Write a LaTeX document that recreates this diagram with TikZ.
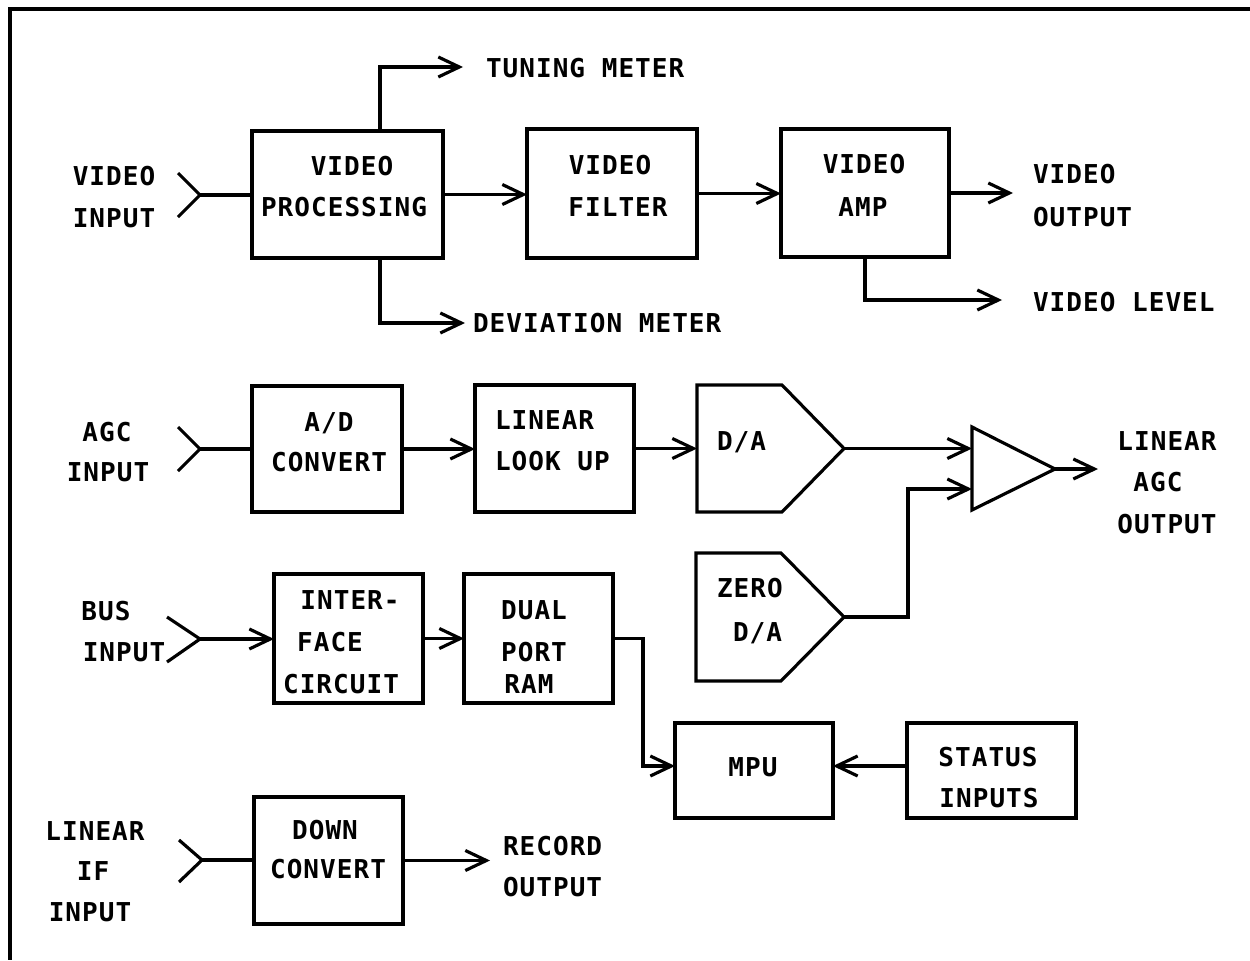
\documentclass[tikz,border=0pt]{standalone}
\usepackage{fontspec}
\newfontfamily\plotfont{DejaVu Sans Mono}[LetterSpace=4,UprightFont=*,BoldFont=* Bold]
\usetikzlibrary{arrows.meta,calc}

\begin{document}
\begin{tikzpicture}[x=0.02cm,y=-0.02cm,
  wire/.style={line width=1.8pt},
  arr/.style={wire,-{Straight Barb[length=0.42cm,width=0.40cm]}},
  blk/.style={draw,line width=1.8pt,rectangle,inner sep=0pt,outer sep=0pt},
  frm/.style={rectangle,inner sep=0pt,outer sep=0pt},
  txt/.style={inner sep=0pt,outer sep=0pt,
    font=\plotfont\bfseries\fontsize{14.8pt}{18pt}\selectfont,
    text height=10.8pt,text depth=0pt},
  ltxt/.style={txt,anchor=west}]

% page and outer frame
\fill[white] (0,0) rectangle (1250,960);
\useasboundingbox (0,0) rectangle (1250,960);
\draw[line width=2.3pt] (1250,9) -- (10,9) -- (10,960);

% ---------------- video chain ----------------
\node[blk,minimum width=3.82cm,minimum height=2.54cm] (vp) at (347.5,194.5) {};
\node[blk,minimum width=3.40cm,minimum height=2.58cm] (vf) at (612,193.5) {};
\node[blk,minimum width=3.36cm,minimum height=2.56cm] (va) at (865,193) {};

\node[txt] (vp1) at (352,166) {VIDEO};
\node[txt] (vp2) at (344,207) {PROCESSING};
\node[txt] (vf1) at (610,165) {VIDEO};
\node[txt] (vf2) at (618,207) {FILTER};
\node[txt] (va1) at (864,164) {VIDEO};
\node[txt] (va2) at (863,207) {AMP};

\node[txt] (vin1) at (114,176) {VIDEO};
\node[txt] (vin2) at (114,218) {INPUT};
\coordinate (vin) at (200,195);
\draw[wire] (vin) ++(-22,-22) -- (vin) -- ++(-22,22);
\draw[wire] (vin) -- (vin -| vp.west);

\draw[arr] (vp.east) -- (vp.east -| vf.west);
\draw[arr] (vf.east) -- (vf.east -| va.west);

\coordinate (tun) at (463,67);
\coordinate (dev) at (465,323);
\coordinate (meterx) at (380,67);
\draw[arr] (vp.north -| meterx) |- (tun);
\draw[arr] (vp.south -| meterx) |- (dev);
\node[ltxt] (tunt) at (486,68) {TUNING METER};
\node[ltxt] (devt) at (473,323) {DEVIATION METER};

\coordinate (vout) at (1013,193);
\draw[arr] (va.east) -- (va.east -| vout);
\node[ltxt] (vo1) at (1033,174) {VIDEO};
\node[ltxt] (vo2) at (1033,217) {OUTPUT};

\coordinate (vlev) at (1002,300);
\draw[arr] (va.south) |- (vlev);
\node[ltxt] (vlt) at (1033,302) {VIDEO LEVEL};

% ---------------- AGC chain ----------------
\node[blk,minimum width=3.00cm,minimum height=2.52cm] (ad) at (327,449) {};
\node[blk,minimum width=3.18cm,minimum height=2.54cm] (llu) at (554.5,448.5) {};
\node[frm,minimum width=2.94cm,minimum height=2.54cm] (da) at (770.5,448.5) {};
\draw[wire] (da.north west) -- ($(da.north east)+(-62,0)$) -- (da.east)
  -- ($(da.south east)+(-62,0)$) -- (da.south west) -- cycle;

\node[txt] (ad1) at (329,422) {A/D};
\node[txt] (ad2) at (329,462) {CONVERT};
\node[ltxt] (llu1) at (495,420) {LINEAR};
\node[ltxt] (llu2) at (495,461) {LOOK UP};
\node[ltxt] (da1) at (717,441) {D/A};

\node[txt] (agc1) at (107,432) {AGC};
\node[txt] (agc2) at (108,472) {INPUT};
\coordinate (agcin) at (200,449);
\draw[wire] (agcin) ++(-22,-22) -- (agcin) -- ++(-22,22);
\draw[wire] (agcin) -- (agcin -| ad.west);

\draw[arr] (ad.east) -- (ad.east -| llu.west);
\draw[arr] (llu.east) -- (llu.east -| da.west);

% summing amplifier
\coordinate (ampA) at (972,427);
\coordinate (ampB) at (972,510);
\coordinate (ampC) at (1055,469);
\coordinate (ampin1) at (972,448);
\coordinate (ampin2) at (972,489);
\draw[wire] (ampA) -- (ampC) -- (ampB) -- cycle;
\coordinate (agcout) at (1098,469);
\draw[arr] (ampC) -- (agcout);
\node[txt] (lo1) at (1167,441) {LINEAR};
\node[txt] (lo2) at (1158,482) {AGC};
\node[txt] (lo3) at (1167,524) {OUTPUT};

\draw[arr] (da.east) -- (da.east -| ampin1);

% zero D/A
\node[frm,minimum width=2.96cm,minimum height=2.56cm] (zda) at (770,617) {};
\draw[wire] (zda.north west) -- ($(zda.north east)+(-63,0)$) -- (zda.east)
  -- ($(zda.south east)+(-63,0)$) -- (zda.south west) -- cycle;
\node[ltxt] (zda1) at (717,588) {ZERO};
\node[ltxt] (zda2) at (733,632) {D/A};
\coordinate (zbend) at (908,617);
\draw[arr] (zda.east) -- (zbend) |- (ampin2);

% ---------------- bus chain ----------------
\node[blk,minimum width=2.98cm,minimum height=2.58cm] (ifc) at (348.5,638.5) {};
\node[blk,minimum width=2.98cm,minimum height=2.58cm] (dpr) at (538.5,638.5) {};
\node[txt] (ifc1) at (350,600) {INTER-};
\node[txt] (ifc2) at (330,642) {FACE};
\node[txt] (ifc3) at (341,684) {CIRCUIT};
\node[txt] (dpr1) at (534,610) {DUAL};
\node[txt] (dpr2) at (534,652) {PORT};
\node[txt] (dpr3) at (529,684) {RAM};

\node[txt] (bus1) at (106,611) {BUS};
\node[txt] (bus2) at (124,652) {INPUT};
\coordinate (busin) at (200,639);
\draw[wire] (busin) ++(-33,-22) -- (busin) -- ++(-33,23);
\draw[arr] (busin) -- (busin -| ifc.west);
\draw[arr] (ifc.east) -- (ifc.east -| dpr.west);

\node[blk,minimum width=3.16cm,minimum height=1.90cm] (mpu) at (754,770.5) {};
\node[blk,minimum width=3.38cm,minimum height=1.90cm] (sts) at (991.5,770.5) {};
\node[txt] (mpu1) at (753,767) {MPU};
\node[txt] (sts1) at (988,757) {STATUS};
\node[txt] (sts2) at (989,798) {INPUTS};

\coordinate (dbend) at (643,766);
\draw[arr] (dpr.east) -| (dbend) -- (dbend -| mpu.west);
\draw[arr] (sts.west |- dbend) -- (mpu.east |- dbend);

% ---------------- linear IF chain ----------------
\node[blk,minimum width=2.98cm,minimum height=2.54cm] (dc) at (328.5,860.5) {};
\node[txt] (dc1) at (325,830) {DOWN};
\node[txt] (dc2) at (328,869) {CONVERT};

\node[txt] (lif1) at (95,831) {LINEAR};
\node[txt] (lif2) at (93,871) {IF};
\node[txt] (lif3) at (90,912) {INPUT};
\coordinate (ifin) at (202,860);
\draw[wire] (ifin) ++(-23,-20) -- (ifin) -- ++(-23,22);
\draw[wire] (ifin) -- (ifin -| dc.west);

\coordinate (rec) at (490,860.5);
\draw[arr] (dc.east) -- (rec);
\node[ltxt] (rec1) at (503,846) {RECORD};
\node[ltxt] (rec2) at (503,887) {OUTPUT};

\end{tikzpicture}
\end{document}
